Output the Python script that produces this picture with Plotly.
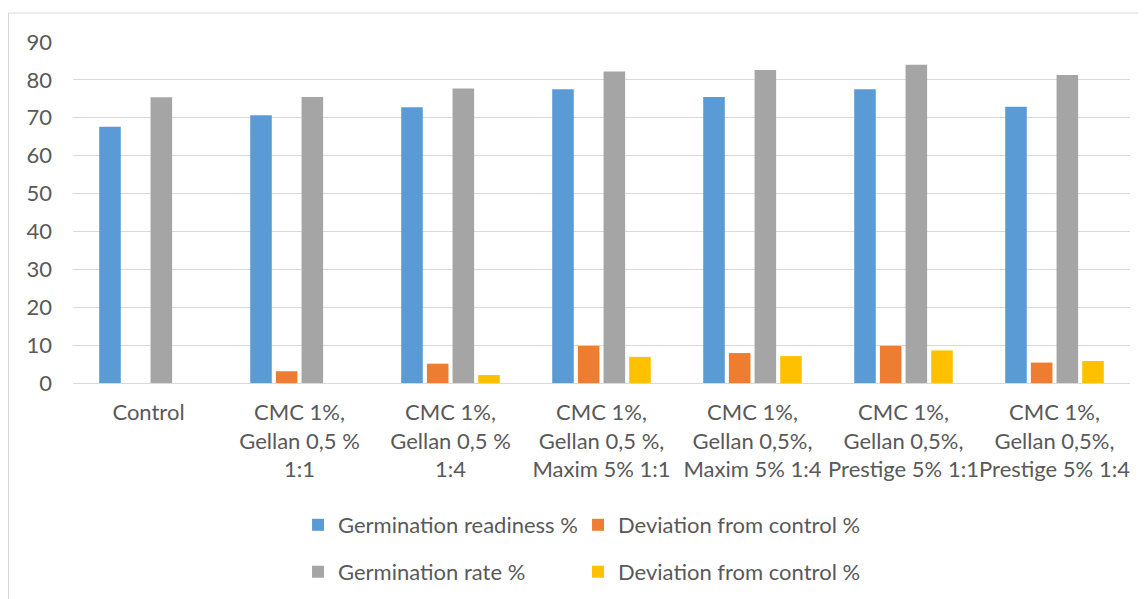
import plotly.graph_objects as go

categories = [
    "Control",
    "CMC 1%,<br>Gellan 0,5 %<br>1:1",
    "CMC 1%,<br>Gellan 0,5 %<br>1:4",
    "CMC 1%,<br>Gellan 0,5 %,<br>Maxim 5% 1:1",
    "CMC 1%,<br>Gellan 0,5%,<br>Maxim 5% 1:4",
    "CMC 1%,<br>Gellan 0,5%,<br>Prestige 5% 1:1",
    "CMC 1%,<br>Gellan 0,5%,<br>Prestige 5% 1:4",
]
readiness = [67.6, 70.7, 72.8, 77.5, 75.5, 77.5, 72.9]
dev_readiness = [0, 3.1, 5.1, 9.8, 7.9, 9.8, 5.4]
rate = [75.4, 75.5, 77.7, 82.2, 82.6, 84.0, 81.3]
dev_rate = [0, 0, 2.1, 6.9, 7.1, 8.6, 5.8]

names = ["Germination readiness %", "Deviation from control %",
         "Germination rate %", "Deviation from control %"]
colors = ["#5B9BD5", "#ED7D31", "#A5A5A5", "#FFC000"]
legends = ["legend", "legend2", "legend3", "legend4"]
series = [readiness, dev_readiness, rate, dev_rate]

fig = go.Figure()
for vals, nm, col, lg in zip(series, names, colors, legends):
    fig.add_trace(go.Bar(x=categories, y=vals, name=nm, marker_color=col,
                         marker_line_width=0, legend=lg))

font = dict(family="Lato, Open Sans, sans-serif", size=22, color="#595959")
col1_x, col2_x = 0.2129, 0.4778
row1_y, row2_y = -0.4164, -0.554


def leg(x, y):
    return dict(orientation="h", x=x, y=y, xanchor="left", yanchor="middle",
                font=font, itemclick=False, bgcolor="rgba(0,0,0,0)")


fig.update_layout(
    width=1138, height=591,
    margin=dict(l=65, r=16, t=34, b=216, autoexpand=False),
    plot_bgcolor="white", paper_bgcolor="white",
    font=font,
    barmode="group", bargap=0.32, bargroupgap=0.16,
    yaxis=dict(range=[0, 90], dtick=10, showgrid=True, gridcolor="#d9d9d9",
               gridwidth=1, zeroline=True, zerolinecolor="#d9d9d9",
               zerolinewidth=1, showline=False, ticks="", ticklabelstandoff=20,
               tickfont=font),
    xaxis=dict(showline=False, ticks="", tickfont=font, ticklabelstandoff=14,
               tickangle=0),
    legend=leg(col1_x, row1_y),
    legend2=leg(col2_x, row1_y),
    legend3=leg(col1_x, row2_y),
    legend4=leg(col2_x, row2_y),
    showlegend=True,
    shapes=[
        dict(type="line", xref="paper", yref="paper", x0=-0.061, x1=1.02,
             y0=1.085, y1=1.085, line=dict(color="#d9d9d9", width=1)),
        dict(type="line", xref="paper", yref="paper", x0=-0.061, x1=-0.061,
             y0=1.085, y1=-0.65, line=dict(color="#d9d9d9", width=1)),
    ],
)

fig.write_html("out.html")
